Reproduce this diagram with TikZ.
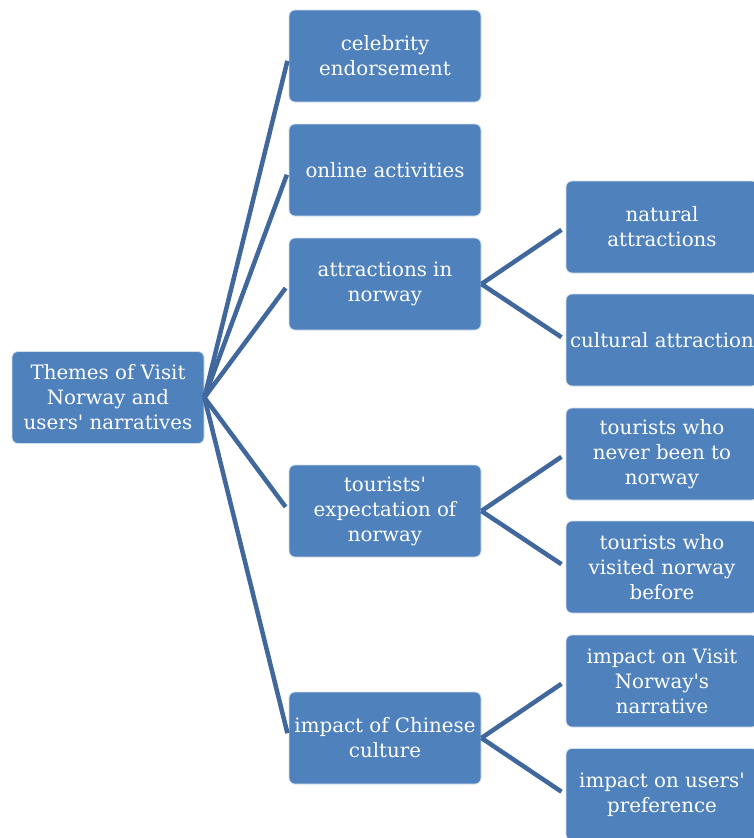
\documentclass[tikz,border=0pt]{standalone}
\usepackage{fontspec}
\setmainfont{DejaVu Serif}[Ligatures=TeXOff]
\usepackage{xcolor}
\usetikzlibrary{positioning}
\definecolor{boxblue}{RGB}{79,129,189}
\definecolor{lineblue}{RGB}{65,104,156}

\begin{document}
\begin{tikzpicture}[x=1pt,y=-1pt]
        \tikzset{box/.style = {draw=white!75!boxblue, line width=0.8pt, fill=boxblue, rounded corners=6pt,
                minimum width=192pt, minimum height=92pt, inner sep=2pt, align=center, text=white,
                font=\fontsize{19.8}{25}\selectfont}}
        \tikzset{c/.style = {lineblue, line width=4.5pt, shorten >=5pt}}

        \useasboundingbox (0,0) rectangle (754,838);
        \clip (0,0) rectangle (754,838);

        \node[box] (theme) at (108,397.5) {Themes of Visit\\Norway and\\users' narratives};

        \node[box] (celeb) at (385,56) {celebrity\\endorsement};
        \node[box] (online) at (385,170) {online activities};
        \node[box] (attr) at (385,284) {attractions in\\norway};
        \node[box] (expect) at (385,511) {tourists'\\expectation of\\norway};
        \node[box] (impact) at (385,738) {impact of Chinese\\culture};

        \node[box] (natural) at (662,227) {natural\\attractions};
        \node[box] (cultural) at (662,340) {cultural attraction};
        \node[box] (never) at (662,454) {tourists who\\never been to\\norway};
        \node[box] (visited) at (662,567) {tourists who\\visited norway\\before};
        \node[box] (impvn) at (662,681) {impact on Visit\\Norway's\\narrative};
        \node[box] (imppref) at (662,794.5) {impact on users'\\preference};

        \draw[c] (theme.east) edge (celeb.west);
        \draw[c] (theme.east) edge (online.west);
        \draw[c] (theme.east) edge (attr.west);
        \draw[c] (theme.east) edge (expect.west);
        \draw[c] (theme.east) edge (impact.west);

        \draw[c] (attr.east) edge (natural.west);
        \draw[c] (attr.east) edge (cultural.west);
        \draw[c] (expect.east) edge (never.west);
        \draw[c] (expect.east) edge (visited.west);
        \draw[c] (impact.east) edge (impvn.west);
        \draw[c] (impact.east) edge (imppref.west);

        \end{tikzpicture}
\end{document}
